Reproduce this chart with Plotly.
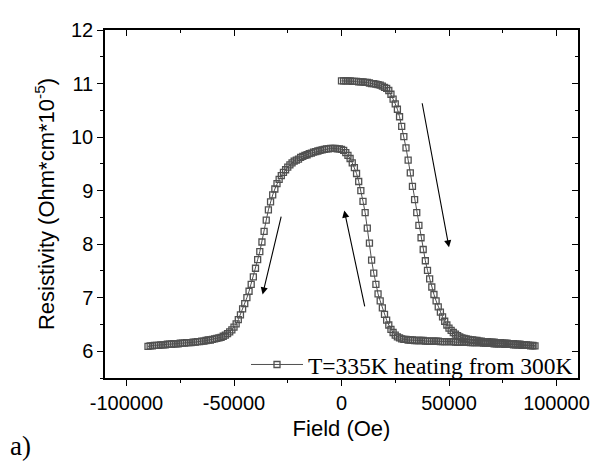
import plotly.graph_objects as go

# Branch A: field sweep 0 -> +90000 Oe (1000 Oe steps)
field_up = list(range(0, 91000, 1000))
res_up = [
    11.05, 11.05, 11.05, 11.05, 11.05, 11.04, 11.04, 11.04, 11.03, 11.03,
    11.03, 11.02, 11.02, 11.01, 11.00, 11.00, 10.99, 10.98, 10.97, 10.95,
    10.93, 10.91, 10.87, 10.80, 10.71, 10.62, 10.52, 10.38, 10.20, 10.01,
    9.80, 9.57, 9.33, 9.08, 8.83, 8.59, 8.35, 8.12, 7.90, 7.69,
    7.51, 7.35, 7.20, 7.06, 6.94, 6.83, 6.73, 6.64, 6.56, 6.49,
    6.43, 6.39, 6.35, 6.32, 6.29, 6.27, 6.25, 6.24, 6.23, 6.22,
    6.21, 6.21, 6.20, 6.20, 6.19, 6.19, 6.18, 6.18, 6.18, 6.17,
    6.17, 6.17, 6.16, 6.16, 6.16, 6.15, 6.15, 6.15, 6.14, 6.14,
    6.14, 6.13, 6.13, 6.13, 6.12, 6.12, 6.12, 6.11, 6.11, 6.11,
    6.10,
]

# Branch B: field sweep +89000 -> -90000 Oe (1000 Oe steps)
field_down = list(range(89000, -91000, -1000))
res_down = [
    6.10, 6.10, 6.11, 6.11, 6.11, 6.11, 6.12, 6.12, 6.12, 6.12,
    6.13, 6.13, 6.13, 6.13, 6.14, 6.14, 6.14, 6.14, 6.14, 6.15,
    6.15, 6.15, 6.15, 6.15, 6.16, 6.16, 6.16, 6.16, 6.16, 6.16,
    6.17, 6.17, 6.17, 6.17, 6.17, 6.17, 6.17, 6.18, 6.18, 6.18,
    6.18, 6.18, 6.18, 6.18, 6.19, 6.19, 6.19, 6.19, 6.19, 6.19,
    6.19, 6.20, 6.20, 6.20, 6.20, 6.20, 6.21, 6.21, 6.21, 6.22,
    6.22, 6.23, 6.25, 6.27, 6.30, 6.35, 6.41, 6.49, 6.58, 6.69,
    6.81, 6.94, 7.07, 7.25, 7.46, 7.70, 8.02, 8.30, 8.59, 8.80,
    9.00, 9.17, 9.32, 9.43, 9.52, 9.60, 9.66, 9.71, 9.75, 9.77,
    9.78, 9.78, 9.79, 9.79, 9.79, 9.78, 9.78, 9.77, 9.76, 9.75,
    9.74, 9.73, 9.72, 9.70, 9.69, 9.67, 9.66, 9.64, 9.62, 9.59,
    9.57, 9.55, 9.52, 9.48, 9.44, 9.39, 9.34, 9.28, 9.21, 9.13,
    9.03, 8.92, 8.79, 8.64, 8.45, 8.24, 8.04, 7.86, 7.71, 7.55,
    7.39, 7.25, 7.12, 7.00, 6.89, 6.79, 6.68, 6.59, 6.51, 6.45,
    6.40, 6.36, 6.33, 6.30, 6.28, 6.26, 6.25, 6.24, 6.23, 6.22,
    6.21, 6.21, 6.20, 6.19, 6.19, 6.18, 6.18, 6.17, 6.17, 6.16,
    6.16, 6.16, 6.15, 6.15, 6.15, 6.14, 6.14, 6.14, 6.13, 6.13,
    6.13, 6.12, 6.12, 6.12, 6.11, 6.11, 6.11, 6.10, 6.10, 6.09,
]

field = field_up + field_down
resistivity = res_up + res_down

legend_label = "T=335K heating from 300K"
x_title = "Field (Oe)"
y_title = "Resistivity (Ohm*cm*10<sup>-5</sup>)"
x_ticks = [-100000, -50000, 0, 50000, 100000]
x_ticktext = ["-100000", "-50000", "0", "50000", "100000"]
x_minor = [-100000, -75000, -25000, 25000, 75000]
y_ticks = [6, 7, 8, 9, 10, 11, 12]
y_minor = [5.5, 6.5, 7.5, 8.5, 9.5, 10.5, 11.5]
x_range = [-110000, 110000]
y_range = [5.5, 12]

# arrows: (tail_x, tail_y, head_x, head_y)
arrows = [
    (37400, 10.66, 50000, 7.94),
    (-27900, 8.54, -36700, 7.06),
    (10950, 6.81, 1280, 8.63),
]

fig = go.Figure()
fig.add_trace(go.Scatter(
    x=field, y=resistivity, mode="lines+markers", name=legend_label,
    line=dict(color="#505050", width=1),
    marker=dict(symbol="square-open", size=6, color="#505050",
                line=dict(width=1.3, color="#505050")),
))
# dummy trace for mirrored top/right axes
fig.add_trace(go.Scatter(x=[], y=[], xaxis="x2", yaxis="y2",
                         showlegend=False, hoverinfo="skip"))

for tx, ty, hx, hy in arrows:
    fig.add_annotation(x=hx, y=hy, ax=tx, ay=ty, xref="x", yref="y",
                       axref="x", ayref="y", text="", showarrow=True,
                       arrowhead=2, arrowsize=1.3, arrowwidth=1.1,
                       arrowcolor="black")

# "a)" label: plot area is 473 px wide (105..578) and 348 px tall (30..378)
fig.add_annotation(
    x=(8 - 105) / 473, y=(378 - 446) / 348, text="a)", showarrow=False,
    xanchor="left", yanchor="middle", xref="paper", yref="paper",
    font=dict(family="Liberation Serif, Times New Roman", size=27, color="black"),
)

axis_font = dict(family="Liberation Sans, Arial", size=20, color="black")
title_font = dict(family="Liberation Sans, Arial", size=22, color="black")

common = dict(tickcolor="black", tickwidth=1.3, ticklen=6, showline=True,
              linecolor="black", linewidth=1.5, showgrid=False, zeroline=False)

fig.update_layout(
    width=614, height=468,
    margin=dict(l=105, r=36, t=30, b=90),
    paper_bgcolor="white", plot_bgcolor="white",
    showlegend=True,
    legend=dict(x=1.0, y=-0.025, xanchor="right", yanchor="bottom",
                bgcolor="rgba(0,0,0,0)",
                font=dict(family="Liberation Serif, Times New Roman", size=23.5, color="black"),
                itemwidth=52, tracegroupgap=0),
    xaxis=dict(range=x_range, title=dict(text=x_title, font=title_font, standoff=8),
               tickfont=axis_font, tickvals=x_ticks, ticktext=x_ticktext,
               ticks="outside", **common,
               minor=dict(ticks="outside", ticklen=3.5, tickwidth=1.2,
                          tickcolor="black", tickvals=x_minor, showgrid=False)),
    yaxis=dict(range=y_range, title=dict(text=y_title, font=title_font, standoff=10),
               tickfont=axis_font, tickvals=y_ticks,
               ticks="outside", **common,
               minor=dict(ticks="outside", ticklen=3.5, tickwidth=1.2,
                          tickcolor="black", tickvals=y_minor, showgrid=False)),
    xaxis2=dict(range=x_range, overlaying="x", side="top", anchor="y",
                tickvals=x_ticks, showticklabels=False, ticks="inside", **common,
                minor=dict(ticks="inside", ticklen=3.5, tickwidth=1.2, tickcolor="black",
                           tickvals=x_minor, showgrid=False)),
    yaxis2=dict(range=y_range, overlaying="y", side="right", anchor="x",
                tickvals=y_ticks, showticklabels=False, ticks="inside", **common,
                minor=dict(ticks="inside", ticklen=3.5, tickwidth=1.2, tickcolor="black",
                           tickvals=y_minor, showgrid=False)),
)

fig.write_html("out.html")
